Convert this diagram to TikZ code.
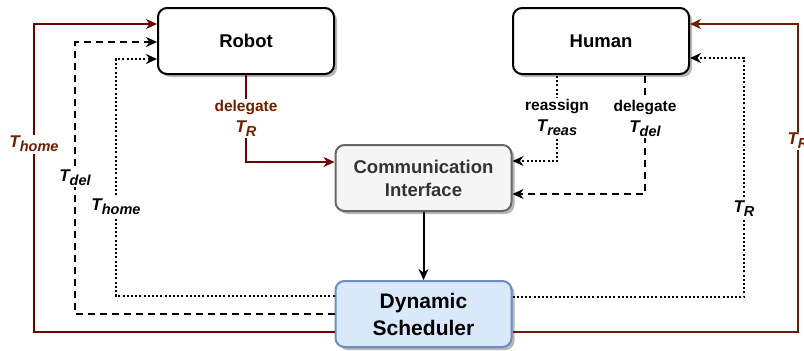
\documentclass[tikz,border=0pt]{standalone}
\usepackage{fontspec}
\setmainfont{Liberation Sans}
\usetikzlibrary{arrows.meta,shadows}
\definecolor{darkred}{HTML}{6F0000}
\definecolor{rust}{HTML}{6D1F00}
\definecolor{ifacefill}{HTML}{F5F5F5}
\definecolor{ifaceline}{HTML}{666666}
\definecolor{ifacetext}{HTML}{333333}
\definecolor{schedfill}{HTML}{DAE8FC}
\definecolor{schedline}{HTML}{6C8EBF}
% task symbol: italic T with a lowered subscript
\newcommand{\tsk}[1]{{\fontsize{17}{17}\selectfont\bfseries\itshape T}\raisebox{-4pt}{\fontsize{14.5}{14.5}\selectfont\bfseries\itshape #1}}
\tikzset{
  box/.style={draw, line width=2pt, rounded corners=9pt, minimum width=176pt,
    minimum height=66pt, align=center, font=\bfseries,
    drop shadow={shadow xshift=3pt, shadow yshift=-3pt, fill=black!28, opacity=1}},
  link/.style={line width=2pt, -{Stealth[length=11pt,width=10pt,inset=3.5pt]}},
  dotline/.style={dash pattern=on 2pt off 2.2pt},
  dashline/.style={dash pattern=on 7pt off 5pt},
  lbl/.style={fill=white, inner sep=1.5pt, align=center, font=\bfseries\fontsize{15.5}{21}\selectfont},
}
\begin{document}
\begin{tikzpicture}[x=1pt, y=-1pt]
\useasboundingbox (0,0) rectangle (804,351);

\node[box, fill=white, font=\bfseries\fontsize{18.5}{22}\selectfont] (robot) at (246,41) {Robot};
\node[box, fill=white, font=\bfseries\fontsize{18.5}{22}\selectfont] (human) at (601,41) {Human};
\node[box, fill=ifacefill, draw=ifaceline, text=ifacetext,
  font=\bfseries\fontsize{18.5}{23}\selectfont] (iface) at (423.5,178) {Communication\\Interface};
\node[box, fill=schedfill, draw=schedline,
  font=\bfseries\fontsize{21}{27}\selectfont] (sched) at (423.5,314) {Dynamic\\Scheduler};

% scheduler back to the robot
\draw[link, darkred] (sched.west |- 0,332) -- (34,332)
  -- node[lbl, text=rust, pos=0.61] {\tsk{home}} (34,24) -- (robot.west |- 0,24);
\draw[link, dashline] (sched.west |- 0,314) -- (75,314)
  -- node[lbl, pos=0.5] {\tsk{del}} (75,42) -- (robot.west |- 0,42);
\draw[link, dotline] (sched.west |- 0,296) -- (116,296)
  -- node[lbl, pos=0.375] {\tsk{home}} (116,59) -- (robot.west |- 0,59);

% scheduler back to the human
\draw[link, dotline] (sched.east |- 0,297) -- (744,297)
  -- node[lbl, pos=0.37] {\tsk{R}} (744,58) -- (human.east |- 0,58);
\draw[link, rust] (sched.east |- 0,332) -- (798,332)
  -- node[lbl, text=rust, pos=0.62] {\tsk{R}} (798,24) -- (human.east |- 0,24);

% delegation and reassignment into the interface
\draw[link, darkred] (robot.south) -- node[lbl, text=rust, pos=0.5] {delegate\\\tsk{R}} (246,162) -- (iface.west |- 0,162);
\draw[link, dotline] (557,76) -- node[lbl, pos=0.49] {reassign\\\tsk{reas}} (557,161) -- (iface.east |- 0,161);
\draw[link, dashline] (645,76) -- node[lbl, pos=0.36] {delegate\\\tsk{del}} (645,194) -- (iface.east |- 0,194);

% interface feeds the scheduler
\draw[link] (iface.south) -- (sched.north);
\end{tikzpicture}
\end{document}
